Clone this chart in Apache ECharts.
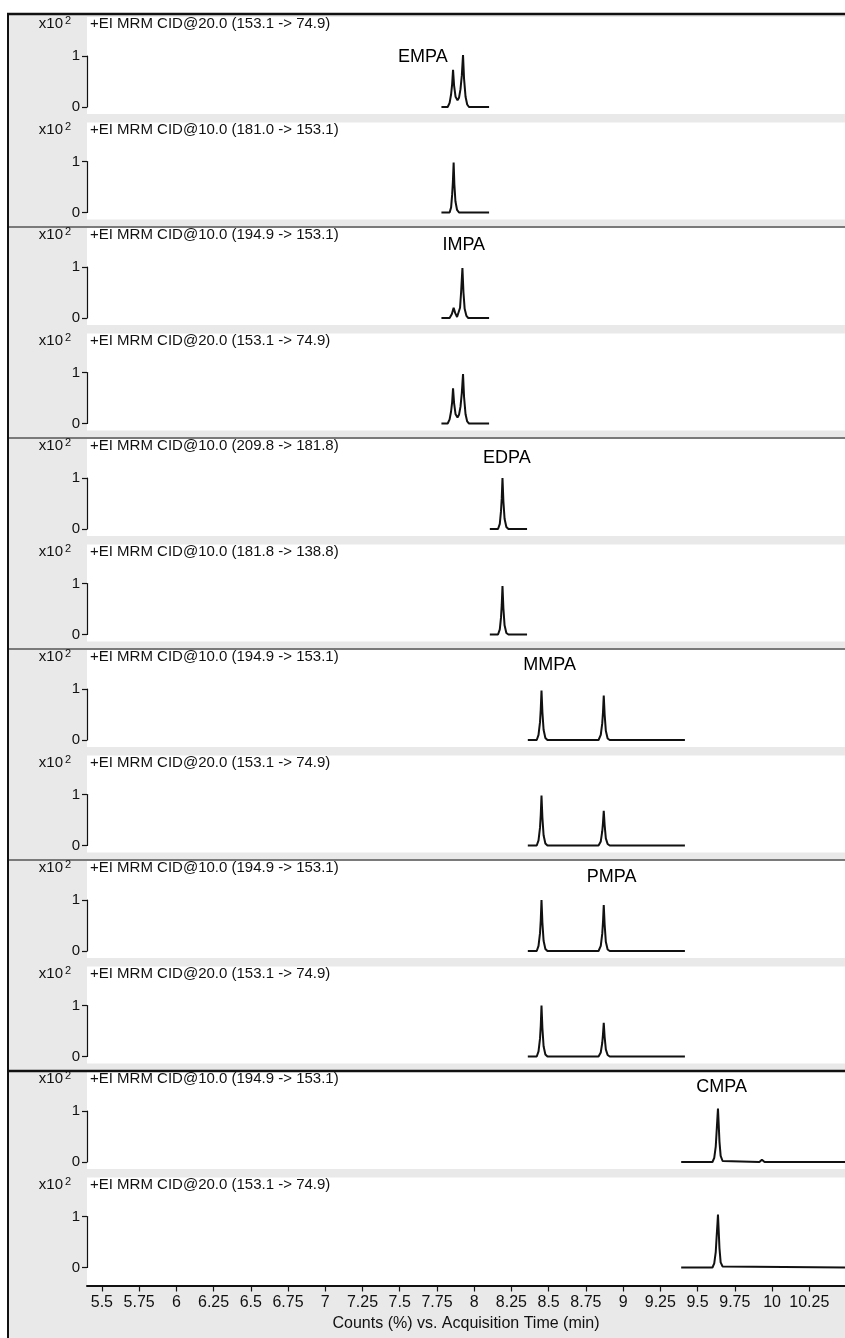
<!DOCTYPE html>
<html>
<head>
<meta charset="utf-8">
<title>MRM chromatograms</title>
<script src="https://cdn.jsdelivr.net/npm/echarts@6/dist/echarts.min.js"></script>
<style>
    html, body { margin: 0; padding: 0; background: #fff; }
    #chart { width: 845px; height: 1338px; }
</style>
</head>
<body>
<div id="chart"></div>
<script>
// shared retention time axis (min)
const timeTicks = [5.5, 5.75, 6, 6.25, 6.5, 6.75, 7, 7.25, 7.5, 7.75, 8, 8.25, 8.5, 8.75, 9, 9.25, 9.5, 9.75, 10, 10.25];

// MRM transitions, top to bottom
const transitions = [
    "+EI MRM CID@20.0 (153.1 -> 74.9)",
    "+EI MRM CID@10.0 (181.0 -> 153.1)",
    "+EI MRM CID@10.0 (194.9 -> 153.1)",
    "+EI MRM CID@20.0 (153.1 -> 74.9)",
    "+EI MRM CID@10.0 (209.8 -> 181.8)",
    "+EI MRM CID@10.0 (181.8 -> 138.8)",
    "+EI MRM CID@10.0 (194.9 -> 153.1)",
    "+EI MRM CID@20.0 (153.1 -> 74.9)",
    "+EI MRM CID@10.0 (194.9 -> 153.1)",
    "+EI MRM CID@20.0 (153.1 -> 74.9)",
    "+EI MRM CID@10.0 (194.9 -> 153.1)",
    "+EI MRM CID@20.0 (153.1 -> 74.9)",
];

// compound names and where their label sits (panel, time, counts x10^2)
const compounds = ["EMPA", "IMPA", "EDPA", "MMPA", "PMPA", "CMPA"];
const compoundPanels = [0, 2, 4, 6, 8, 10];
const compoundTimes = [7.655, 7.93, 8.219, 8.507, 8.923, 9.662];
const compoundLevels = [0.98, 1.43, 1.39, 1.47, 1.45, 1.47];

// traces: [time (min), counts x10^2]
const empa1 = [[7.78, 0], [7.822, 0], [7.835, 0.08], [7.845, 0.25], [7.852, 0.45], [7.858, 0.73], [7.865, 0.42], [7.875, 0.2], [7.888, 0.13], [7.898, 0.18], [7.908, 0.35], [7.917, 0.62], [7.925, 1.02], [7.932, 0.55], [7.942, 0.2], [7.953, 0.05], [7.965, 0], [8.1, 0]];
const empa2 = [[7.78, 0], [7.835, 0], [7.845, 0.1], [7.852, 0.35], [7.857, 0.6], [7.862, 0.98], [7.867, 0.55], [7.874, 0.22], [7.885, 0.05], [7.898, 0], [8.1, 0]];
const impa1 = [[7.78, 0], [7.835, 0], [7.85, 0.08], [7.862, 0.2], [7.872, 0.1], [7.885, 0.02], [7.895, 0.05], [7.905, 0.2], [7.912, 0.5], [7.921, 0.98], [7.928, 0.5], [7.936, 0.18], [7.948, 0.04], [7.96, 0], [8.1, 0]];
const impa2 = [[7.78, 0], [7.822, 0], [7.835, 0.08], [7.845, 0.24], [7.852, 0.42], [7.858, 0.69], [7.865, 0.4], [7.875, 0.18], [7.888, 0.12], [7.898, 0.17], [7.908, 0.33], [7.917, 0.6], [7.925, 0.97], [7.932, 0.52], [7.942, 0.18], [7.953, 0.04], [7.965, 0], [8.1, 0]];
const edpa1 = [[8.105, 0], [8.16, 0], [8.172, 0.1], [8.18, 0.35], [8.185, 0.6], [8.19, 1.0], [8.196, 0.55], [8.204, 0.2], [8.216, 0.04], [8.23, 0], [8.355, 0]];
const edpa2 = [[8.105, 0], [8.16, 0], [8.172, 0.1], [8.18, 0.33], [8.185, 0.58], [8.19, 0.95], [8.196, 0.52], [8.204, 0.18], [8.216, 0.03], [8.23, 0], [8.355, 0]];
const mmpa1 = [[8.36, 0], [8.42, 0], [8.432, 0.1], [8.442, 0.35], [8.447, 0.6], [8.452, 0.97], [8.458, 0.55], [8.466, 0.2], [8.478, 0.04], [8.492, 0], [8.835, 0], [8.85, 0.1], [8.86, 0.33], [8.865, 0.55], [8.87, 0.87], [8.876, 0.5], [8.884, 0.18], [8.896, 0.03], [8.91, 0], [9.415, 0]];
const mmpa2 = [[8.36, 0], [8.42, 0], [8.432, 0.1], [8.442, 0.35], [8.447, 0.6], [8.452, 0.98], [8.458, 0.55], [8.466, 0.2], [8.478, 0.04], [8.492, 0], [8.835, 0], [8.85, 0.08], [8.86, 0.28], [8.865, 0.45], [8.87, 0.68], [8.876, 0.4], [8.884, 0.14], [8.896, 0.03], [8.91, 0], [9.415, 0]];
const pmpa1 = [[8.36, 0], [8.42, 0], [8.432, 0.1], [8.442, 0.35], [8.447, 0.6], [8.452, 1.0], [8.458, 0.56], [8.466, 0.2], [8.478, 0.04], [8.492, 0], [8.835, 0], [8.85, 0.1], [8.86, 0.34], [8.865, 0.57], [8.87, 0.9], [8.876, 0.52], [8.884, 0.18], [8.896, 0.03], [8.91, 0], [9.415, 0]];
const pmpa2 = [[8.36, 0], [8.42, 0], [8.432, 0.1], [8.442, 0.35], [8.447, 0.6], [8.452, 1.0], [8.458, 0.56], [8.466, 0.2], [8.478, 0.04], [8.492, 0], [8.835, 0], [8.85, 0.08], [8.86, 0.27], [8.865, 0.44], [8.87, 0.66], [8.876, 0.38], [8.884, 0.14], [8.896, 0.03], [8.91, 0], [9.415, 0]];
const cmpa1 = [[9.39, 0], [9.6, 0], [9.612, 0.08], [9.622, 0.3], [9.628, 0.6], [9.634, 0.9], [9.637, 1.05], [9.641, 0.8], [9.647, 0.4], [9.655, 0.12], [9.668, 0.02], [9.68, 0], [9.915, 0], [9.925, 0.03], [9.932, 0.045], [9.94, 0.02], [9.95, 0], [10.49, 0]];
const cmpa2 = [[9.39, 0], [9.6, 0], [9.612, 0.08], [9.622, 0.3], [9.628, 0.6], [9.634, 0.88], [9.637, 1.04], [9.641, 0.78], [9.647, 0.38], [9.655, 0.1], [9.668, 0.02], [9.68, 0], [10.49, 0]];

const traces = [empa1, empa2, impa1, impa2, edpa1, edpa2, mmpa1, mmpa2, pmpa1, pmpa2, cmpa1, cmpa2];

// layout
const FONT = '"Liberation Sans", Arial, sans-serif';
const NARROW = '"Liberation Sans Narrow", "Arial Narrow", "Liberation Sans", sans-serif';
const PLOT_LEFT = 87;
const ROW_TOP0 = 13;
const ROW_STEP = 105.5;
const rowTop = (i) => ROW_TOP0 + ROW_STEP * i;
const last = traces.length - 1;

const grids = [];
const xAxes = [];
const yAxes = [];
const series = [];
const graphics = [];

// frame
graphics.push({ type: "rect", z: -20, shape: { x: 8, y: 13, width: 837, height: 1325 }, style: { fill: "#e9e9e9" } });

traces.forEach((trace, i) => {
    const top = rowTop(i);
    const bottom = i === last ? 1285 : top + 101;
    graphics.push({ type: "rect", z: -10, shape: { x: PLOT_LEFT, y: top + 4, width: 845 - PLOT_LEFT, height: bottom - top - 4 }, style: { fill: "#ffffff" } });
    if (i > 0 && i % 2 === 0) {
        graphics.push({
            type: "line", z: -5,
            shape: { x1: 8, y1: top + 3, x2: 845, y2: top + 3 },
            style: { stroke: i === 10 ? "#111" : "#555", lineWidth: i === 10 ? 2.5 : 1.5 },
        });
    }
    graphics.push({ type: "text", x: 63, y: top + 11, style: { text: "x10", fontSize: 15, fontFamily: FONT, fill: "#111", align: "right", verticalAlign: "middle" } });
    graphics.push({ type: "text", x: 65, y: top + 8, style: { text: "2", fontSize: 11, fontFamily: FONT, fill: "#111", align: "left", verticalAlign: "middle" } });
    graphics.push({ type: "text", x: 90, y: top + 11, style: { text: transitions[i], fontSize: 15, fontFamily: FONT, fill: "#111", align: "left", verticalAlign: "middle" } });

    grids.push({ left: PLOT_LEFT, right: 0, top: top + 43, height: 51 });
    xAxes.push({
        type: "value",
        gridIndex: i,
        min: 5.4,
        max: 10.49,
        show: i === last,
        offset: 18,
        axisLine: { show: true, onZero: false, lineStyle: { color: "#111", width: 2 } },
        axisTick: { show: true, customValues: timeTicks, length: 6, lineStyle: { color: "#111", width: 1.2 } },
        axisLabel: { customValues: timeTicks, fontSize: 16, fontFamily: NARROW, color: "#111", margin: 9 },
        splitLine: { show: false },
        name: i === last ? "Counts (%) vs. Acquisition Time (min)" : "",
        nameLocation: "middle",
        nameGap: 30,
        nameTextStyle: { fontSize: 16, fontFamily: NARROW, color: "#111" },
    });
    yAxes.push({
        type: "value",
        gridIndex: i,
        min: 0,
        max: 1,
        interval: 1,
        axisLine: { show: true, lineStyle: { color: "#111", width: 1.2 } },
        axisTick: { show: true, length: 5, lineStyle: { color: "#111", width: 1.2 } },
        axisLabel: { fontSize: 15, fontFamily: FONT, color: "#111", margin: 7 },
        splitLine: { show: false },
    });
    series.push({
        type: "line",
        xAxisIndex: i,
        yAxisIndex: i,
        data: trace,
        showSymbol: false,
        clip: false,
        lineStyle: { color: "#111", width: 2 },
        z: 5,
    });
});

compounds.forEach((name, k) => {
    const p = compoundPanels[k];
    series.push({
        type: "scatter",
        xAxisIndex: p,
        yAxisIndex: p,
        data: [[compoundTimes[k], compoundLevels[k]]],
        symbolSize: 1,
        clip: false,
        itemStyle: { color: "rgba(0,0,0,0)", opacity: 1 },
        label: { show: true, position: "inside", formatter: name, fontSize: 18, fontFamily: FONT, color: "#000", opacity: 1 },
        z: 6,
    });
});

const chart = echarts.init(document.getElementById("chart"));
chart.setOption({
    animation: false,
    backgroundColor: "#ffffff",
    grid: grids,
    xAxis: xAxes,
    yAxis: yAxes,
    series: series,
    graphic: { elements: graphics.concat([
        { type: "line", shape: { x1: 7, y1: 14, x2: 845, y2: 14 }, style: { stroke: "#111", lineWidth: 2.5 }, z: 20 },
        { type: "line", shape: { x1: 8, y1: 13, x2: 8, y2: 1338 }, style: { stroke: "#111", lineWidth: 2 }, z: 20 },
    ]) },
});
window.addEventListener("resize", () => chart.resize());
</script>
</body>
</html>
